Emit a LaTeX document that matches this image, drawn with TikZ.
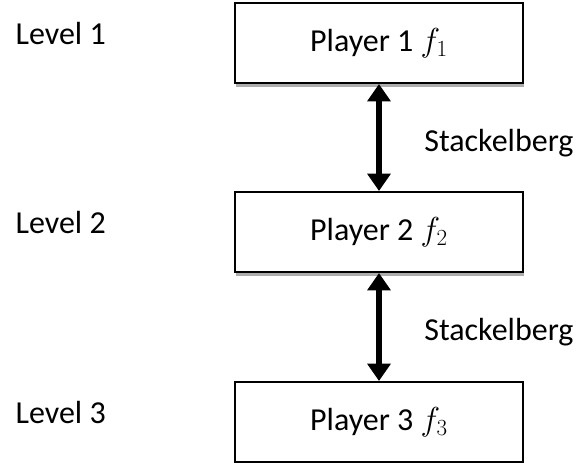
\documentclass[tikz,border=0pt]{standalone}
\usepackage{fontspec}
\setmainfont{Carlito}
\usepackage{tikz}
\usetikzlibrary{arrows.meta,positioning,shadows}

\begin{document}
\begin{tikzpicture}[node distance=80pt, font=\fontsize{24}{29}\selectfont]
    \tikzstyle{player} = [rectangle, draw=black, line width=1.5pt, fill=white, minimum width=216pt, minimum height=60pt, drop shadow={shadow xshift=1pt, shadow yshift=-3pt, fill=black!32, opacity=1}]
    \tikzstyle{level} = [inner sep=0pt, yshift=7.5pt]
    \tikzstyle{arrow} = [draw, line width=4pt, {Triangle[width=17pt,length=13pt]}-{Triangle[width=17pt,length=13pt]}]
    \tikzstyle{game} = [right=32pt, yshift=-4pt, inner sep=0pt]

    \useasboundingbox (0,0) rectangle (432pt,-346.5pt);

    \node [player] (p1) at (284.25pt,-32.25pt) {Player 1 $f_1$};
    \node [player, below=80.25pt of p1] (p2) {Player 2 $f_2$};
    \node [player, below=81pt of p2] (p3) {Player 3 $f_3$};

    \node [level, left=96pt of p1] (l1) {Level 1};
    \node [level, left=96pt of p2] (l2) {Level 2};
    \node [level, left=96pt of p3] (l3) {Level 3};

    \draw [arrow] (p1) -- node[game] (s12) {Stackelberg} (p2);
    \draw [arrow] (p2) -- node[game] (s23) {Stackelberg} (p3);
\end{tikzpicture}
\end{document}
